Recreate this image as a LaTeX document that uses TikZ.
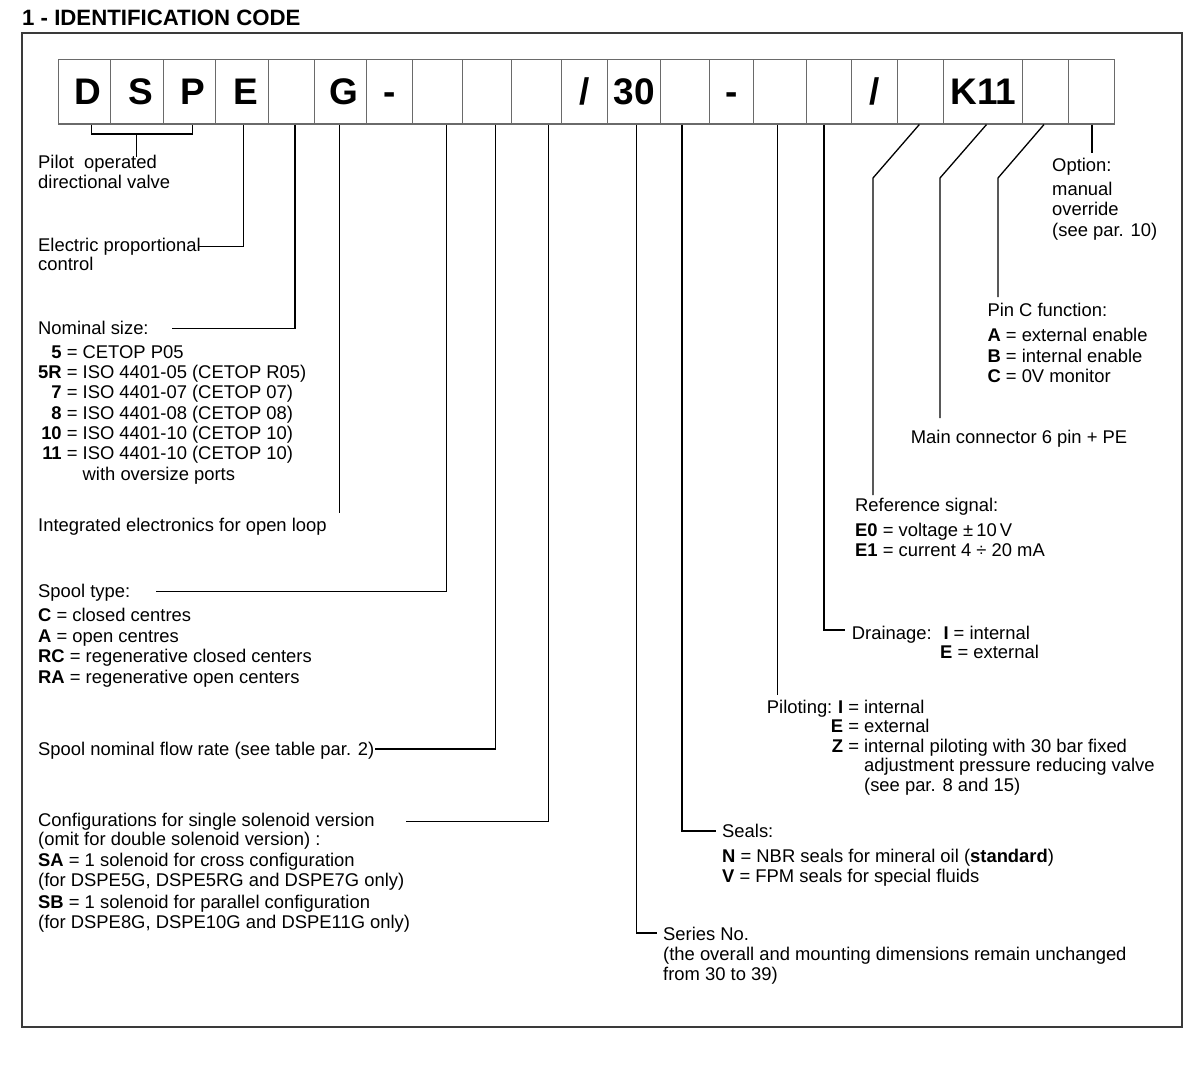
\documentclass[tikz,border=0pt]{standalone}
\usepackage{fontspec}
\setmainfont{Liberation Sans}
\definecolor{boxgray}{HTML}{6A6A6A}
\definecolor{framegray}{HTML}{3A3A3A}
\newcommand{\mblk}[1]{\begin{tabular}[t]{@{}l@{}}#1\end{tabular}}
\newcommand{\rk}{\kern7pt}
\tikzset{
  codebox/.style={draw=boxgray, line width=1.1pt, minimum height=64.7pt, inner sep=0pt,
    text height=26.5pt, text depth=0pt, font=\fontsize{37}{40}\selectfont\bfseries, anchor=west},
  leader/.style={line width=1.3pt, draw=black},
  framebox/.style={line width=1.6pt, draw=framegray},
  txt/.style={anchor=base west, inner sep=0pt, font=\fontsize{18.4}{20.5}\selectfont},
  ttl/.style={anchor=base west, inner sep=0pt, font=\fontsize{22.2}{24}\selectfont\bfseries},
}
\begin{document}
\begin{tikzpicture}[x=1pt,y=-1pt]
\useasboundingbox (0,0) rectangle (1200,1068);
\node[ttl] (title) at (22,25) {1 - IDENTIFICATION CODE};
\draw[framebox] (22,33) rectangle (1182,1027);
% code boxes
\node[codebox, minimum width=52pt]   (b1)  at (58.3,91.65)  {\rk D};
\node[codebox, minimum width=52.7pt] (b2)  at (110.3,91.65) {\rk S};
\node[codebox, minimum width=52pt]   (b3)  at (163,91.65)   {\rk P};
\node[codebox, minimum width=52.7pt] (b4)  at (215,91.65)   {\rk E};
\node[codebox, minimum width=46pt]   (b5)  at (267.7,91.65) {};
\node[codebox, minimum width=52.3pt] (b6)  at (313.7,91.65) {\rk G};
\node[codebox, minimum width=46.3pt] (b7)  at (366,91.65)   {-};
\node[codebox, minimum width=50pt]   (b8)  at (412.3,91.65) {};
\node[codebox, minimum width=49pt]   (b9)  at (462.3,91.65) {};
\node[codebox, minimum width=49.4pt] (b10) at (511.3,91.65) {};
\node[codebox, minimum width=46.6pt] (b11) at (560.7,91.65) {/};
\node[codebox, minimum width=52.4pt] (b12) at (607.3,91.65) {30};
\node[codebox, minimum width=49pt]   (b13) at (659.7,91.65) {};
\node[codebox, minimum width=44.6pt] (b14) at (708.7,91.65) {-};
\node[codebox, minimum width=52.7pt] (b15) at (753.3,91.65) {};
\node[codebox, minimum width=44.7pt] (b16) at (806,91.65)   {};
\node[codebox, minimum width=46pt]   (b17) at (850.7,91.65) {/};
\node[codebox, minimum width=46.6pt] (b18) at (896.7,91.65) {};
\node[codebox, minimum width=79pt]   (b19) at (943.3,91.65) {K11};
\node[codebox, minimum width=46pt]   (b20) at (1022.3,91.65) {};
\node[codebox, minimum width=45.7pt] (b21) at (1068.3,91.65) {};
% left texts
\node[txt] (pilot) at (38,168.3) {\mblk{Pilot~~operated\\directional valve}};
\node[txt] (elec) at (38,251.7) {\mblk{Electric proportional\\[-1.5pt]control}};
\node[txt, font=\fontsize{18.4}{20.3}\selectfont] (nom) at (38,334) {\begin{tabular}[t]{@{}r@{}l@{}}
\multicolumn{2}{@{}l@{}}{Nominal size:}\\[4pt]
\textbf{5}&~= CETOP P05\\
\textbf{5R}&~= ISO 4401-05 (CETOP R05)\\
\textbf{7}&~= ISO 4401-07 (CETOP 07)\\
\textbf{8}&~= ISO 4401-08 (CETOP 08)\\
\textbf{10}&~= ISO 4401-10 (CETOP 10)\\
\textbf{11}&~= ISO 4401-10 (CETOP 10)\\
&\hphantom{~= }with oversize ports
\end{tabular}};
\node[txt] (integ) at (38,531.7) {Integrated electronics for open loop};
\node[txt] (spool) at (38,597.7) {\mblk{Spool type:\\[3.5pt]
\textbf{C} = closed centres\\
\textbf{A} = open centres\\
\textbf{RC} = regenerative closed centers\\
\textbf{RA} = regenerative open centers}};
\node[txt] (flow) at (38,755) {Spool nominal flow rate (see table par. 2)};
\node[txt] (conf) at (38,826) {\mblk{Configurations for single solenoid version\\[-1.5pt]
(omit for double solenoid version) :\\[1.2pt]
\textbf{SA} = 1 solenoid for cross configuration\\[-0.5pt]
(for DSPE5G, DSPE5RG and DSPE7G only)\\[1.1pt]
\textbf{SB} = 1 solenoid for parallel configuration\\[-0.5pt]
(for DSPE8G, DSPE10G and DSPE11G only)}};
% right texts
\node[txt] (opt) at (1052,171) {\mblk{Option:\\[3.5pt] manual\\ override\\ (see par. 10)}};
\node[txt] (pinc) at (987.3,316.7) {\mblk{Pin C function:\\[4.5pt]
\textbf{A} = external enable\\
\textbf{B} = internal enable\\
\textbf{C} = 0V monitor}};
\node[txt] (mainc) at (910.7,443.3) {Main connector 6 pin + PE};
\node[txt] (ref) at (855,511.7) {\mblk{Reference signal:\\[3.8pt]
\textbf{E0} = voltage ±\,10\,V\\
\textbf{E1} = current 4 ÷ 20 mA}};
\node[txt] (drain) at (851.7,639) {Drainage:};
\node[txt] (drainI) at (943.3,639) {\textbf{I} = internal};
\node[txt] (drainE) at (940,658.3) {\textbf{E} = external};
\node[txt] (pilo) at (766.7,713.3) {Piloting:};
\node[txt, font=\fontsize{18.4}{19.5}\selectfont] (piloK) at (830.7,713.3) {\begin{tabular}[t]{@{}r@{}l@{}}
\textbf{I}&~= internal\\
\textbf{E}&~= external\\
\textbf{Z}&~= internal piloting with 30 bar fixed\\
&\hphantom{~= }adjustment pressure reducing valve\\
&\hphantom{~= }(see par. 8 and 15)
\end{tabular}};
\node[txt] (seals) at (722,837) {\mblk{Seals:\\[4.5pt]
\textbf{N} = NBR seals for mineral oil (\textbf{standard})\\
\textbf{V} = FPM seals for special fluids}};
\node[txt] (series) at (663,940) {\mblk{Series No.\\[-0.5pt]
(the overall and mounting dimensions remain unchanged\\[-0.5pt]
from 30 to 39)}};
% leader coordinates
\coordinate (br1) at (91.7,134);
\coordinate (br2) at (192.3,134);
\coordinate (k1) at (136.7,134);
\coordinate (e1) at (136.7,157);
\coordinate (k4) at (243.3,246.7);
\coordinate (e4) at (199,246.7);
\coordinate (k5) at (295,328.3);
\coordinate (e5) at (171.7,328.3);
\coordinate (e6) at (339.3,513);
\coordinate (k8) at (446.7,591.7);
\coordinate (e8) at (155.7,591.7);
\coordinate (k9) at (495.7,749);
\coordinate (e9) at (375,749);
\coordinate (k10) at (548.3,821.5);
\coordinate (e10) at (406,821.5);
\coordinate (k12) at (636.7,933);
\coordinate (e12) at (657,933);
\coordinate (k13) at (682,831);
\coordinate (e13) at (716,831);
\coordinate (e15) at (777.7,695);
\coordinate (k16) at (824,630);
\coordinate (e16) at (845,630);
\coordinate (s18) at (919.3,124);
\coordinate (k18) at (873,178);
\coordinate (e18) at (873,495);
\coordinate (s19) at (986.5,124);
\coordinate (k19) at (940,178);
\coordinate (e19) at (940,418);
\coordinate (s20) at (1044,124);
\coordinate (k20) at (998,178);
\coordinate (e20) at (998,297);
\coordinate (e21) at (1092,153);
% leaders
\draw[leader] (b1.south -| br1) -- (br1) -- (br2) -- (b3.south -| br2);
\draw[leader] (k1) -- (e1);
\draw[leader] (b4.south -| k4) -- (k4) -- (e4);
\draw[leader] (b5.south -| k5) -- (k5) -- (e5);
\draw[leader] (b6.south -| e6) -- (e6);
\draw[leader] (b8.south -| k8) -- (k8) -- (e8);
\draw[leader] (b9.south -| k9) -- (k9) -- (e9);
\draw[leader] (b10.south -| k10) -- (k10) -- (e10);
\draw[leader] (b12.south -| k12) -- (k12) -- (e12);
\draw[leader] (b13.south -| k13) -- (k13) -- (e13);
\draw[leader] (b15.south -| e15) -- (e15);
\draw[leader] (b16.south -| k16) -- (k16) -- (e16);
\draw[leader] (b18.south -| s18) -- (k18) -- (e18);
\draw[leader] (b19.south -| s19) -- (k19) -- (e19);
\draw[leader] (b20.south -| s20) -- (k20) -- (e20);
\draw[leader] (b21.south -| e21) -- (e21);
\end{tikzpicture}
\end{document}
